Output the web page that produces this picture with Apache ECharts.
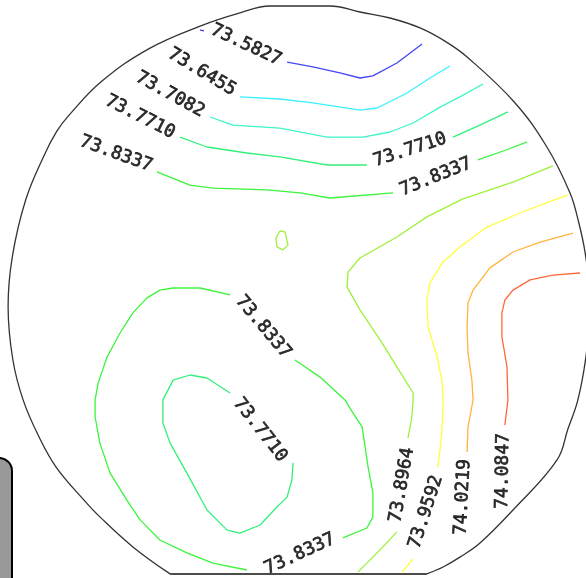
<!DOCTYPE html>
<html>
<head>
<meta charset="utf-8">
<style>
  html, body { margin: 0; padding: 0; background: #ffffff; }
  #chart { width: 586px; height: 578px; }
</style>
<script src="https://cdn.jsdelivr.net/npm/echarts@6/dist/echarts.min.js"></script>
</head>
<body>
<div id="chart"></div>
<script>
// Wafer thickness contour map. Coordinates are wafer positions (x, y) relative to the wafer centre.

// Contour levels (one label text per level)
const levels = ['73.5827', '73.6455', '73.7082', '73.7710', '73.8337', '73.8964', '73.9592', '74.0219', '74.0847'];

// Wafer edge: the round part, then the flat at the bottom
const waferArc = [
  [42.3, -91.3], [47.7, -89], [53.3, -85.7], [60, -81], [71, -70], [85.7, -53.3], [89.3, -43],
  [92.6, -33.4], [95.3, -19], [96.3, -6.7], [96.3, 3.3], [95, 16], [92.7, 26.7], [90, 35.7],
  [82.3, 51], [71.4, 66], [55.7, 81], [48.3, 86.3], [40, 90.7], [30, 94], [20, 96], [10, 98],
  [0, 98], [-10, 98], [-20, 95.7], [-33.3, 91.3], [-50.3, 83.8], [-66.2, 72.8], [-76.9, 61.7],
  [-81.1, 56.2], [-85.3, 48.2], [-91.4, 33.5], [-95.9, 14.4], [-97.3, -2.3], [-95.7, -20],
  [-92.3, -33.3], [-87.3, -45], [-81.3, -55.7], [-72, -66.7], [-66.7, -72.3], [-55.7, -82.3],
  [-43.3, -91.3]
];
const waferFlat = [[-43.3, -91.3], [42.3, -91.3]];

// Contour polylines, split where the level labels sit
const c735827 = [
  [[-33.3, 90], [-32, 89.7]],
  [[-4.3, 79.3], [4.3, 77.7], [13.3, 75.7], [20, 74], [24.3, 74.7], [32.3, 79], [40.7, 85.3]]
];
const c736455 = [
  [[-20, 67.7], [-6.7, 67], [4.3, 65.7], [20, 63.3], [25.7, 64], [35.7, 69], [43.3, 74], [50, 78]]
];
const c737082 = [
  [[-30, 61], [-22.3, 58.3], [-6.7, 57.3], [9, 54.3], [21, 54.3], [30, 56], [37.7, 59],
   [46.7, 64.3], [53.3, 67.7], [61, 72]]
];
const c737710 = [
  [[-40, 54.3], [-31, 51], [-17.7, 49], [-6.7, 47.7], [9, 45], [22.3, 45]],
  [[51, 54.3], [60, 58.3], [69.3, 62.7]],
  // closed loop in the lower left
  [[-2.3, -54.3], [-2.7, -60], [-4.3, -65.7], [-7.7, -69], [-13.3, -75], [-20, -77.7],
   [-24.3, -76.7], [-31, -70], [-37.7, -57.7], [-43.3, -47.7], [-45.7, -41], [-45.7, -33.3],
   [-42.3, -26.7], [-36.7, -25], [-31, -26], [-23.3, -31]]
];
const c738337 = [
  [[-47.7, 42.7], [-36.7, 38.3], [-29, 37.3], [-11, 36.7], [0, 35.7], [10, 34], [31, 35.7]],
  [[59.3, 46.7], [68.7, 50], [75.7, 52.7]],
  [[-23.3, 1.7], [-33.3, 4], [-42.3, 4], [-46.7, 3.3], [-51, 0.7], [-55.7, -4.3], [-60, -11],
   [-64.3, -19], [-67.3, -27.7], [-68.3, -33.3], [-68.3, -39], [-66.7, -47.7], [-63.3, -57.7],
   [-57.7, -66.7], [-53.3, -73.3], [-46.7, -80], [-37.7, -84.3], [-29, -87.7], [-17.7, -90]],
  [[14.3, -79.3], [22.3, -76], [24.3, -72.3], [24.3, -64.3], [22.7, -55.7], [21, -44.3],
   [20.7, -42.3], [17.7, -37.7], [15, -33.3], [6.7, -25.7], [-1.7, -20]]
];
const c738964 = [
  [[84.3, 44.7], [71, 39.3], [54.3, 33.7], [42.3, 27.7], [32.3, 21], [20, 14], [16, 9.3],
   [15.7, 4.3], [20, -3.3], [26.7, -13.3], [32.3, -22.3], [37.7, -31], [37.7, -33.3],
   [37.3, -39], [36, -46]],
  [[32.3, -77.3], [26.7, -83.3], [19.3, -90.7]],
  // small island near the centre
  [[-6.7, 23], [-5, 22.7], [-4, 18.3], [-5.7, 16.7], [-7.7, 17.7], [-8, 20.7], [-6.7, 23]]
];
const c739592 = [
  [[89.3, 35], [85.7, 33.7], [73.3, 29], [62.3, 24.3], [53.3, 17.7], [47.7, 12.7], [43.3, 5.7],
   [42.3, 0], [42.7, -9], [45.7, -19], [47.3, -26.7], [47.7, -33.3], [47.3, -44.3], [46, -55.7]],
  [[37.7, -86.3], [34, -90.7]]
];
const c740219 = [
  [[91, 22.3], [80, 19.3], [71, 16], [63.3, 10.7], [57.7, 3.3], [56, -1], [55.7, -9], [56, -17.7],
   [57.3, -26.7], [57.7, -33.3], [56, -42.3], [55.7, -50.7]]
];
const c740847 = [
  [[93.3, 9], [84.3, 8.3], [76.7, 6.7], [71, 3.3], [68.3, 0], [67.3, -4.3], [67.3, -12.3],
   [69, -22.3], [69.3, -33.3], [68.3, -41.7]]
];

// Label anchors: [x, y, level index, text angle in degrees]
const labelSpots = [
  [-18, 85, 0, -25],
  [-32.7, 76, 1, -31],
  [-43.3, 68.5, 2, -29],
  [-53.3, 61, 3, -27],
  [-61.3, 48.7, 4, -20],
  [36.7, 50, 3, 18],
  [45.3, 41, 4, 22],
  [-12.3, -9, 4, -50],
  [-13.3, -43.3, 3, -52],
  [0, -84.7, 4, 25],
  [34, -61.7, 5, 80],
  [42, -70.7, 6, 72],
  [54.3, -65.7, 7, 87],
  [67.7, -57, 8, 89]
];

const contourSets = [c735827, c736455, c737082, c737710, c738337, c738964, c739592, c740219, c740847];
const levelColors = ['#4646f5', '#3cf0ff', '#3cf5c8', '#33f07a', '#3cf53c', '#9ef03a', '#ffff3a', '#ffb43c', '#ff6a3a'];

const series = [];

series.push({
  type: 'line',
  data: waferArc,
  smooth: 0.4,
  showSymbol: false,
  silent: true,
  clip: true,
  lineStyle: { color: '#333333', width: 1.3 },
  z: 3
});
series.push({
  type: 'line',
  data: waferFlat,
  showSymbol: false,
  silent: true,
  clip: true,
  lineStyle: { color: '#111111', width: 1.5 },
  z: 3
});

contourSets.forEach(function (segments, i) {
  segments.forEach(function (seg) {
    series.push({
      type: 'line',
      data: seg,
      showSymbol: false,
      silent: true,
      clip: true,
      lineStyle: { color: levelColors[i], width: 1.3 },
      z: 2
    });
  });
});

series.push({
  type: 'scatter',
  symbolSize: 0,
  silent: true,
  z: 5,
  data: labelSpots.map(function (s) {
    return {
      value: [s[0], s[1]],
      name: levels[s[2]],
      label: { rotate: s[3] }
    };
  }),
  label: {
    show: true,
    position: 'inside',
    formatter: '{b}',
    fontFamily: 'DejaVu Sans Mono',
    fontSize: 18,
    color: '#000000',
    textBorderColor: '#000000',
    textBorderWidth: 0.7,
    align: 'center',
    verticalAlign: 'middle'
  }
});

const chart = echarts.init(document.getElementById('chart'), null, { renderer: 'canvas' });
chart.setOption({
  animation: false,
  backgroundColor: '#ffffff',
  grid: { left: 0, right: 0, top: 0, bottom: 0 },
  xAxis: { type: 'value', min: -100, max: 286 / 3, show: false },
  yAxis: { type: 'value', min: -278 / 3, max: 100, show: false },
  graphic: [{
    type: 'rect',
    shape: { x: -20, y: 458, width: 32, height: 140, r: 13 },
    style: { fill: '#999999', stroke: '#000000', lineWidth: 2 },
    z: 10
  }],
  series: series
});
</script>
</body>
</html>
